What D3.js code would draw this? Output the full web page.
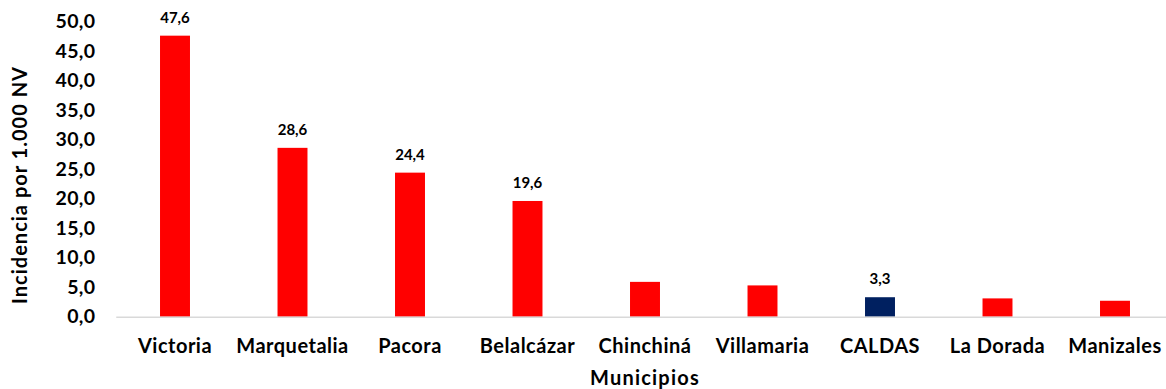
<!DOCTYPE html>
<html>
<head>
<meta charset="utf-8">
<script src="https://cdn.jsdelivr.net/npm/d3@7"></script>
<style>
  html, body { margin: 0; padding: 0; background: #fff; }
  svg { display: block; font-family: "Lato", "Liberation Sans", sans-serif; font-weight: 700; }
</style>
</head>
<body>
<svg id="chart" width="1166" height="389"></svg>
<script>
// Incidencia por 1.000 NV, por municipio
const municipios = ["Victoria", "Marquetalia", "Pacora", "Belalcázar", "Chinchiná", "Villamaria", "CALDAS", "La Dorada", "Manizales"];
const incidencia = [47.6, 28.6, 24.4, 19.6, 5.9, 5.3, 3.3, 3.1, 2.7];
const conEtiqueta = ["Victoria", "Marquetalia", "Pacora", "Belalcázar", "CALDAS"];
const yTicks = [0, 5, 10, 15, 20, 25, 30, 35, 40, 45, 50];
const destacado = "CALDAS";

const data = municipios.map((m, i) => ({ m, v: incidencia[i] }));

const svg = d3.select("#chart");
const plotLeft = 116.25, plotRight = 1173.75, plotBottom = 316.7, plotTop = 21.5;

const es = d3.formatLocale({ decimal: ",", thousands: ".", grouping: [3], currency: ["$", ""] });
const fmt = es.format(".1f");

const x = d3.scaleBand().domain(municipios).range([plotLeft, plotRight])
  .paddingInner(0.745).paddingOuter(0.3725);
const y = d3.scaleLinear().domain([0, 50]).range([plotBottom, plotTop]);

// y axis: labels only
const yAxis = svg.append("g")
  .attr("transform", `translate(${plotLeft},0)`)
  .call(d3.axisLeft(y).tickValues(yTicks).tickFormat(fmt).tickSize(0).tickPadding(21));
yAxis.select(".domain").remove();
yAxis.selectAll("text")
  .attr("font-size", 19.5).attr("letter-spacing", 0.3)
  .attr("font-family", "Lato").attr("font-weight", 700).attr("fill", "#000");

// bars
svg.append("g").selectAll("rect").data(data).join("rect")
  .attr("x", d => x(d.m))
  .attr("width", x.bandwidth())
  .attr("y", d => y(d.v))
  .attr("height", d => y(0) - y(d.v))
  .attr("fill", d => d.m === destacado ? "#002060" : "#FF0000");

// category axis
const xAxis = svg.append("g")
  .attr("transform", `translate(0,${plotBottom})`)
  .call(d3.axisBottom(x).tickSize(0).tickPadding(22));
xAxis.select(".domain").attr("stroke", "#d9d9d9").attr("stroke-width", 1.5)
  .attr("d", `M${plotLeft},0.5H1166`);
xAxis.selectAll("text")
  .attr("font-size", 20).attr("letter-spacing", 0.5)
  .attr("font-family", "Lato").attr("font-weight", 700).attr("fill", "#000");

// value labels
svg.append("g").selectAll("text").data(data.filter(d => conEtiqueta.includes(d.m))).join("text")
  .attr("x", d => x(d.m) + x.bandwidth() / 2)
  .attr("y", d => y(d.v) - 13)
  .attr("text-anchor", "middle")
  .attr("font-size", 15)
  .attr("fill", "#000")
  .text(d => fmt(d.v));

// axis titles
svg.append("text")
  .attr("transform", `translate(27,185) rotate(-90)`)
  .attr("text-anchor", "middle")
  .attr("font-size", 20)
  .attr("letter-spacing", 1.0)
  .attr("fill", "#000")
  .text("Incidencia por 1.000 NV");

svg.append("text")
  .attr("x", (plotLeft + plotRight) / 2)
  .attr("y", 385)
  .attr("text-anchor", "middle")
  .attr("font-size", 20)
  .attr("letter-spacing", 1.2)
  .attr("fill", "#000")
  .text("Municipios");
</script>
</body>
</html>
